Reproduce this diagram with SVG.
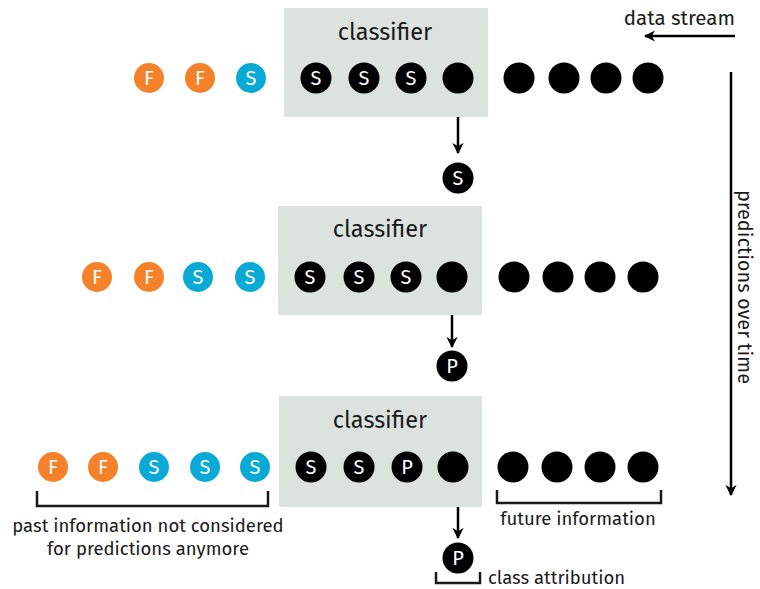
<svg xmlns="http://www.w3.org/2000/svg" width="760" height="589" viewBox="0 0 760 589">
<style>
text{font-family:"Fira Sans","Open Sans","Noto Sans",sans-serif;fill:#1a1a1a}
.box{fill:#dce3df}
.title{font-size:23.5px;text-anchor:middle}
.lbl{font-size:18.5px}
.big{font-size:20.5px}
.k{fill:#000}
.o{fill:#f5822a}
.b{fill:#08aad5}
.ct{font-size:20px;fill:#fff;text-anchor:middle}
.ln{stroke:#000;stroke-width:2.5;fill:none}
.br{stroke:#1a1a1a;stroke-width:2.5;fill:none}
</style>
<defs>
<marker id="ah" viewBox="0 0 10 10" refX="9" refY="5" markerWidth="4.5" markerHeight="4.5" orient="auto" markerUnits="strokeWidth">
<path d="M0,0 L10,5 L0,10 L3,5 Z" fill="#000"/>
</marker>
</defs>

<g id="stream-label">
<text class="big" x="735" y="25" text-anchor="end">data stream</text>
</g>
<g id="time-label">
<text transform="translate(738,287) rotate(90)" text-anchor="middle" style="font-size:20px">predictions over time</text>
</g>

<g id="connectors">
<line class="ln" x1="735" y1="36" x2="645" y2="36" marker-end="url(#ah)"/>
<line class="ln" x1="731" y1="72" x2="731" y2="495" marker-end="url(#ah)"/>
<line class="ln" x1="458" y1="117" x2="458" y2="153" marker-end="url(#ah)"/>
<line class="ln" x1="452" y1="315" x2="452" y2="347" marker-end="url(#ah)"/>
<line class="ln" x1="458" y1="507" x2="458" y2="538" marker-end="url(#ah)"/>
</g>

<!-- Row 1 -->
<g id="classifier1">
<rect class="box" x="284" y="8" width="204" height="109"/>
<text class="title" x="385" y="40">classifier</text>
</g>
<g id="row1">
<circle class="o" cx="149" cy="78" r="15"/><text class="ct" x="149" y="85">F</text>
<circle class="o" cx="200" cy="78" r="15"/><text class="ct" x="200" y="85">F</text>
<circle class="b" cx="251" cy="78" r="15"/><text class="ct" x="251" y="85">S</text>
<circle class="k" cx="316" cy="78" r="15.5"/><text class="ct" x="316" y="85">S</text>
<circle class="k" cx="364" cy="78" r="15.5"/><text class="ct" x="364" y="85">S</text>
<circle class="k" cx="411" cy="78" r="15.5"/><text class="ct" x="411" y="85">S</text>
<circle class="k" cx="458" cy="78" r="15.5"/>
<circle class="k" cx="519" cy="78" r="15.5"/>
<circle class="k" cx="564" cy="78" r="15.5"/>
<circle class="k" cx="606" cy="78" r="15.5"/>
<circle class="k" cx="648" cy="78" r="15.5"/>
</g>
<g id="output1">
<circle class="k" cx="458" cy="178" r="15.5"/><text class="ct" x="458" y="185">S</text>
</g>

<!-- Row 2 -->
<g id="classifier2">
<rect class="box" x="278" y="206" width="204" height="109"/>
<text class="title" x="380" y="237">classifier</text>
</g>
<g id="row2">
<circle class="o" cx="97" cy="277" r="15"/><text class="ct" x="97" y="284">F</text>
<circle class="o" cx="149" cy="277" r="15"/><text class="ct" x="149" y="284">F</text>
<circle class="b" cx="198" cy="277" r="15"/><text class="ct" x="198" y="284">S</text>
<circle class="b" cx="250" cy="277" r="15"/><text class="ct" x="250" y="284">S</text>
<circle class="k" cx="310" cy="277" r="15.5"/><text class="ct" x="310" y="284">S</text>
<circle class="k" cx="359" cy="277" r="15.5"/><text class="ct" x="359" y="284">S</text>
<circle class="k" cx="406" cy="277" r="15.5"/><text class="ct" x="406" y="284">S</text>
<circle class="k" cx="452" cy="277" r="15.5"/>
<circle class="k" cx="514" cy="277" r="15.5"/>
<circle class="k" cx="558" cy="277" r="15.5"/>
<circle class="k" cx="600" cy="277" r="15.5"/>
<circle class="k" cx="643" cy="277" r="15.5"/>
</g>
<g id="output2">
<circle class="k" cx="452" cy="366" r="15.5"/><text class="ct" x="452" y="373">P</text>
</g>

<!-- Row 3 -->
<g id="classifier3">
<rect class="box" x="279" y="396" width="203" height="111"/>
<text class="title" x="380" y="428">classifier</text>
</g>
<g id="row3">
<circle class="o" cx="53" cy="467" r="15"/><text class="ct" x="53" y="474">F</text>
<circle class="o" cx="103" cy="467" r="15"/><text class="ct" x="103" y="474">F</text>
<circle class="b" cx="154" cy="467" r="15"/><text class="ct" x="154" y="474">S</text>
<circle class="b" cx="205" cy="467" r="15"/><text class="ct" x="205" y="474">S</text>
<circle class="b" cx="255" cy="467" r="15"/><text class="ct" x="255" y="474">S</text>
<circle class="k" cx="311" cy="467" r="15.5"/><text class="ct" x="311" y="474">S</text>
<circle class="k" cx="359" cy="467" r="15.5"/><text class="ct" x="359" y="474">S</text>
<circle class="k" cx="407" cy="467" r="15.5"/><text class="ct" x="407" y="474">P</text>
<circle class="k" cx="453" cy="467" r="15.5"/>
<circle class="k" cx="513" cy="467" r="15.5"/>
<circle class="k" cx="557" cy="467" r="15.5"/>
<circle class="k" cx="600" cy="467" r="15.5"/>
<circle class="k" cx="643" cy="467" r="15.5"/>
</g>
<g id="output3">
<circle class="k" cx="458" cy="558" r="15.5"/><text class="ct" x="458" y="565">P</text>
</g>

<g id="past-info">
<path class="br" d="M37,491 V506 H268 V491"/>
<text class="lbl" x="148" y="532" text-anchor="middle">past information not considered</text>
<text class="lbl" x="148" y="555" text-anchor="middle">for predictions anymore</text>
</g>
<g id="future-info">
<path class="br" d="M497,490 V503 H661 V490"/>
<text class="lbl" x="578" y="525" text-anchor="middle">future information</text>
</g>
<g id="class-attribution">
<path class="br" d="M436,572 V583 H480 V572"/>
<text class="lbl" x="488" y="584">class attribution</text>
</g>
</svg>
